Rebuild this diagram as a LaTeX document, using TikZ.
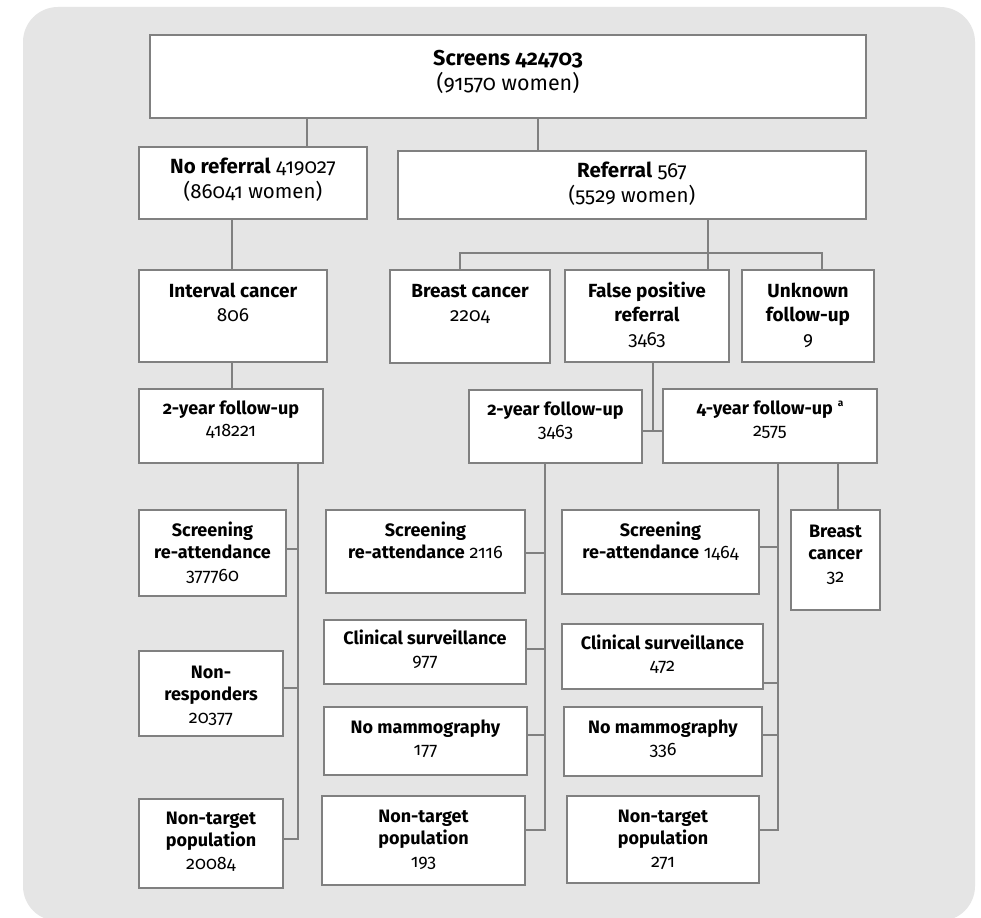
\documentclass[tikz,border=0pt]{standalone}
\usepackage{fontspec}
\setmainfont{Fira Sans}[Numbers=OldStyle]
\definecolor{panel}{RGB}{229,229,229}
\definecolor{edge}{RGB}{128,128,128}
\newcommand{\fsHead}{\fontsize{21.5}{25}\selectfont}
\newcommand{\fsTop}{\fontsize{20.5}{24.5}\selectfont}
\newcommand{\fsMid}{\fontsize{19}{24}\selectfont}
\newcommand{\fsLow}{\fontsize{18}{22.5}\selectfont}
% \flowbox{name}{x1}{y1}{x2}{y2}{font}{first baseline}{text}
\newcommand{\flowbox}[8]{%
  \node[box] (#1) at ({(#2+#4)/2},{(#3+#5)/2})
    {\parbox[c][\dimexpr #5pt-#3pt\relax][t]{\dimexpr #4pt-#2pt\relax}{#6\centering\rule{0pt}{#7pt}#8}};}
\begin{document}
\begin{tikzpicture}[x=1pt,y=-1pt,
  box/.style={draw=edge,line width=2pt,fill=white,inner sep=0pt,outer sep=0pt},
  conn/.style={draw=edge,line width=2pt}]
\useasboundingbox (0,0) rectangle (981,917);
\fill[white] (0,0) rectangle (981,917);
\fill[panel,rounded corners=35pt] (23,7) rectangle (975,921);

% top levels
\flowbox{scr}{150}{35}{866}{118}{\fsHead}{31}{\textbf{Screens 424703}\\(91570 women)}
\flowbox{noref}{139}{147}{367}{219}{\fsTop}{27}{\textbf{No referral} 419027\\(86041 women)}
\flowbox{ref}{398}{151}{866}{219}{\fsTop}{27}{\textbf{Referral} 567\\(5529 women)}

% outcome of screening
\flowbox{intc}{139}{270}{327}{362}{\fsMid}{27}{\textbf{Interval cancer}\\806}
\flowbox{brc}{390}{270}{550}{363}{\fsMid}{27}{\textbf{Breast cancer}\\2204}
\flowbox{fp}{565}{270}{729}{362}{\fsMid}{27}{\textbf{False positive}\\\textbf{referral}\\3463}
\flowbox{unk}{742}{270}{874}{362}{\fsMid}{27}{\textbf{Unknown}\\\textbf{follow-up}\\9}

% follow-up periods
\flowbox{fuA}{139}{389}{323}{463}{\fsLow}{25}{\textbf{2-year follow-up}\\418221}
\flowbox{fuB}{469}{390}{642}{463}{\fsLow}{25}{\textbf{2-year follow-up}\\3463}
\flowbox{fuC}{663}{389}{877}{463}{\fsLow}{25}{\textbf{4-year follow-up}\hspace{5pt}\raisebox{8pt}{\fontsize{10}{10}\selectfont\textbf{a}}\\2575}

% left column
\flowbox{sraA}{139}{510}{286}{596}{\fsLow}{26}{\textbf{Screening}\\\textbf{re-attendance}\\377760}
\flowbox{nrA}{139}{651}{283}{736}{\fsLow}{27}{\textbf{Non-}\\\textbf{responders}\\20377}
\flowbox{ntA}{139}{799}{283}{888}{\fsLow}{25}{\textbf{Non-target}\\\textbf{population}\\20084}

% middle column
\flowbox{sraB}{326}{510}{525}{593}{\fsLow}{26}{\textbf{Screening}\\\textbf{re-attendance} 2116}
\flowbox{csB}{324}{620}{526}{684}{\fsLow}{24}{\textbf{Clinical surveillance}\\977}
\flowbox{nmB}{324}{707}{527}{775}{\fsLow}{26}{\textbf{No mammography}\\177}
\flowbox{ntB}{322}{796}{525}{885}{\fsLow}{26}{\textbf{Non-target}\\\textbf{population}\\193}

% right column
\flowbox{sraC}{562}{510}{759}{594}{\fsLow}{26}{\textbf{Screening}\\\textbf{re-attendance} 1464}
\flowbox{csC}{562}{624}{763}{689}{\fsLow}{25}{\textbf{Clinical surveillance}\\472}
\flowbox{nmC}{564}{707}{762}{776}{\fsLow}{26}{\textbf{No mammography}\\336}
\flowbox{ntC}{567}{796}{759}{883}{\fsLow}{26}{\textbf{Non-target}\\\textbf{population}\\271}
\flowbox{bcC}{791}{510}{880}{610}{\fsLow}{27}{\textbf{Breast}\\\textbf{cancer}\\32}

% connector positions
\coordinate (xa) at (307,0);
\coordinate (xb) at (538,0);
\coordinate (xc) at (232,0);
\coordinate (xd) at (708,0);
\coordinate (bus) at (0,253);
\coordinate (xe) at (460,0);
\coordinate (xf) at (822,0);
\coordinate (xg) at (653,0);
\coordinate (jy) at (0,431);
\coordinate (xk) at (838,0);
% spine stubs
\coordinate (sA1) at (298,549);
\coordinate (sA2) at (298,688);
\coordinate (sA3) at (298,839);
\coordinate (sB1) at (545,553);
\coordinate (sB2) at (545,649);
\coordinate (sB3) at (545,735);
\coordinate (sB4) at (545,830);
\coordinate (sC1) at (778,547);
\coordinate (sC2) at (778,683);
\coordinate (sC3) at (778,735);
\coordinate (sC4) at (778,830);

% connectors
\draw[conn] (scr.south -| xa) -- (noref.north -| xa);
\draw[conn] (scr.south -| xb) -- (ref.north -| xb);
\draw[conn] (noref.south -| xc) -- (intc.north -| xc);
\draw[conn] (ref.south -| xd) -- (fp.north -| xd);
\draw[conn] (brc.north -| xe) -- (bus -| xe) -- (bus -| xf) -- (unk.north -| xf);
\draw[conn] (intc.south -| xc) -- (fuA.north -| xc);
\draw[conn] (fp.south -| xg) -- (jy -| xg);
\draw[conn] (fuB.east |- jy) -- (fuC.west |- jy);
\draw[conn] (fuC.south -| xk) -- (bcC.north -| xk);

\draw[conn] (fuA.south -| sA1) -- (sA3) -- (sA3 -| ntA.east);
\draw[conn] (sA1) -- (sA1 -| sraA.east);
\draw[conn] (sA2) -- (sA2 -| nrA.east);

\draw[conn] (fuB.south -| sB1) -- (sB4) -- (sB4 -| ntB.east);
\draw[conn] (sB1) -- (sB1 -| sraB.east);
\draw[conn] (sB2) -- (sB2 -| csB.east);
\draw[conn] (sB3) -- (sB3 -| nmB.east);

\draw[conn] (fuC.south -| sC1) -- (sC4) -- (sC4 -| ntC.east);
\draw[conn] (sC1) -- (sC1 -| sraC.east);
\draw[conn] (sC2) -- (sC2 -| csC.east);
\draw[conn] (sC3) -- (sC3 -| nmC.east);
\end{tikzpicture}
\end{document}
